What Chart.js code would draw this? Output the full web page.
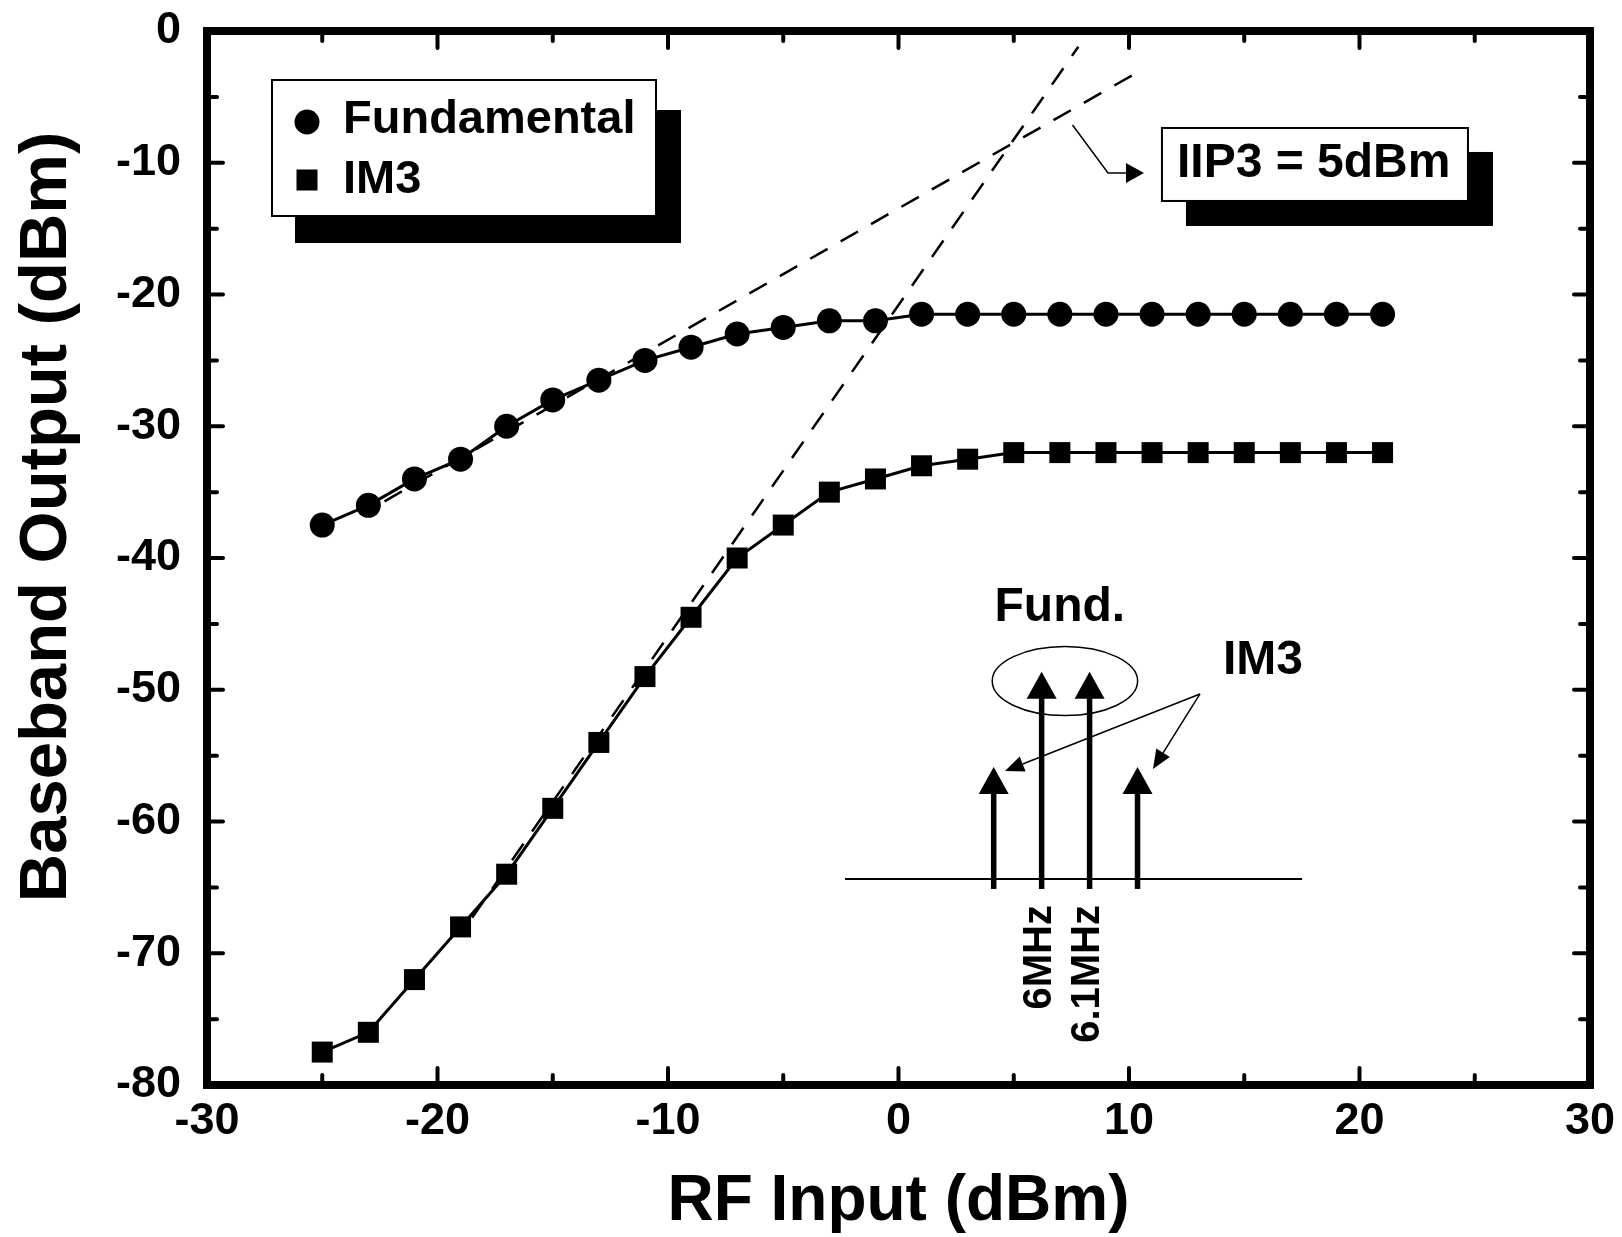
<!DOCTYPE html>
<html><head><meta charset="utf-8">
<script src="https://cdn.jsdelivr.net/npm/chart.js@4.4.1/dist/chart.umd.min.js"></script>
<style>html,body{margin:0;padding:0;background:#fff;}canvas{display:block;}</style>
</head><body>
<canvas id="c" width="1622" height="1237"></canvas>
<script>
// ---- data ----
const rfInput = [-25,-23,-21,-19,-17,-15,-13,-11,-9,-7,-5,-3,-1,1,3,5,7,9,11,13,15,17,19,21];
const fundamental = [-37.5,-36,-34,-32.5,-30,-28,-26.5,-25,-24,-23,-22.5,-22,-22,-21.5,-21.5,-21.5,-21.5,-21.5,-21.5,-21.5,-21.5,-21.5,-21.5,-21.5];
const im3 = [-77.5,-76,-72,-68,-64,-59,-54,-49,-44.5,-40,-37.5,-35,-34,-33,-32.5,-32,-32,-32,-32,-32,-32,-32,-32,-32];
const fundAsymX = [-22.3, 10.2];
const fundAsymY = [-35.7, -3.3];
const im3AsymX = [-18.5, 7.8];
const im3AsymY = [-67.3, -1.2];
const xTickValues = [-30,-20,-10,0,10,20,30];
const yTickValues = [-80,-70,-60,-50,-40,-30,-20,-10,0];
const xMinorTicks = [-25,-15,-5,5,15,25];
const yMinorTicks = [-75,-65,-55,-45,-35,-25,-15,-5];
const seriesNames = ['Fundamental','IM3'];
const xTitle = 'RF Input (dBm)';
const yTitle = 'Baseband Output (dBm)';
const iip3Text = 'IIP3 = 5dBm';
const insetFundText = 'Fund.';
const insetIm3Text = 'IM3';
const insetFreqs = ['6MHz','6.1MHz'];

const FAM = '"Liberation Sans", Arial, Helvetica, sans-serif';
const toXY = (xs, ys) => xs.map((x, i) => ({x, y: ys[i]}));

const target = { left: 207, top: 31, right: 1590, bottom: 1085 };
const fit = { yWidth: 207, xHeight: 152 };
let pad = { left: 0, top: 31, right: 32, bottom: 0 };

const decor = {
  id: 'decor',
  afterDraw(chart) {
    const {ctx, chartArea: ca, scales: {x, y}} = chart;
    const X = v => x.getPixelForValue(v), Y = v => y.getPixelForValue(v);
    ctx.save();
    ctx.fillStyle = '#000'; ctx.strokeStyle = '#000';
    // frame
    ctx.lineWidth = 8; ctx.lineJoin = 'miter';
    ctx.strokeRect(ca.left, ca.top, ca.right - ca.left, ca.bottom - ca.top);
    // inward ticks on all sides
    ctx.lineWidth = 4; ctx.lineCap = 'round';
    const seg = (x1, y1, x2, y2) => { ctx.beginPath(); ctx.moveTo(x1, y1); ctx.lineTo(x2, y2); ctx.stroke(); };
    xTickValues.slice(1, -1).forEach(v => { const p = X(v); seg(p, ca.bottom, p, ca.bottom - 17); seg(p, ca.top, p, ca.top + 17); });
    xMinorTicks.forEach(v => { const p = X(v); seg(p, ca.bottom, p, ca.bottom - 10); seg(p, ca.top, p, ca.top + 10); });
    yTickValues.slice(1, -1).forEach(v => { const p = Y(v); seg(ca.left, p, ca.left + 16, p); seg(ca.right, p, ca.right - 16, p); });
    yMinorTicks.forEach(v => { const p = Y(v); seg(ca.left, p, ca.left + 10, p); seg(ca.right, p, ca.right - 10, p); });
    ctx.lineCap = 'butt';

    // y axis title
    ctx.save();
    ctx.translate(48, 517); ctx.rotate(-Math.PI / 2);
    ctx.font = 'bold 67px ' + FAM; ctx.textAlign = 'center'; ctx.textBaseline = 'middle';
    ctx.fillText(yTitle, 0, 0);
    ctx.restore();

    // legend box with shadow
    const lx = ca.left + 65, ly = ca.top + 49, lw = 384, lh = 136;
    ctx.fillRect(lx + 23, ly + 30, lw + 2, lh - 3);
    ctx.fillStyle = '#fff'; ctx.fillRect(lx, ly, lw, lh);
    ctx.fillStyle = '#000'; ctx.lineWidth = 2; ctx.strokeRect(lx, ly, lw, lh);
    ctx.beginPath(); ctx.arc(lx + 35, ly + 42, 12.5, 0, Math.PI * 2); ctx.fill();
    ctx.fillRect(lx + 35 - 10.5, ly + 100 - 10.5, 21, 21);
    ctx.font = 'bold 47px ' + FAM; ctx.textAlign = 'left'; ctx.textBaseline = 'middle';
    ctx.fillText(seriesNames[0], lx + 71, ly + 40);
    ctx.fillText(seriesNames[1], lx + 71, ly + 100);

    // IIP3 annotation
    const bx = X(11.43), by = Y(-7.36), bw = 306, bh = 73;
    ctx.fillRect(bx + 24, by + 24, bw + 1, bh + 1);
    ctx.fillStyle = '#fff'; ctx.fillRect(bx, by, bw, bh);
    ctx.fillStyle = '#000'; ctx.lineWidth = 2; ctx.strokeRect(bx, by, bw, bh);
    ctx.font = 'bold 48px ' + FAM; ctx.textAlign = 'left'; ctx.textBaseline = 'middle';
    ctx.fillText(iip3Text, bx + 15, by + 36);
    ctx.lineWidth = 1.5;
    ctx.beginPath(); ctx.moveTo(X(7.55), Y(-7.13)); ctx.lineTo(X(9.09), Y(-10.78)); ctx.lineTo(X(10.65) - 18, Y(-10.78)); ctx.stroke();
    const tipX = X(10.65), tipY = Y(-10.78);
    ctx.beginPath(); ctx.moveTo(tipX, tipY); ctx.lineTo(tipX - 18, tipY - 10); ctx.lineTo(tipX - 18, tipY + 10); ctx.closePath(); ctx.fill();

    // inset spectrum sketch
    ctx.lineWidth = 2;
    seg(X(-2.32), Y(-64.36), X(17.51), Y(-64.36));
    const arrow = (xv, topV) => {
      const ax = X(xv), top = Y(topV), bot = Y(-65.12);
      ctx.lineWidth = 5.5; seg(ax, bot, ax, top + 25);
      ctx.beginPath(); ctx.moveTo(ax, top); ctx.lineTo(ax - 15, top + 27); ctx.lineTo(ax + 15, top + 27); ctx.closePath(); ctx.fill();
    };
    arrow(4.13, -55.86); arrow(6.21, -48.63); arrow(8.29, -48.63); arrow(10.37, -55.86);
    ctx.lineWidth = 1.5;
    ctx.beginPath(); ctx.ellipse(X(7.22), Y(-49.34), 72.7, 34.5, 0, 0, Math.PI * 2); ctx.stroke();
    ctx.font = 'bold 48px ' + FAM; ctx.textAlign = 'center'; ctx.textBaseline = 'middle';
    ctx.fillText(insetFundText, X(7.0), Y(-43.8));
    ctx.fillText(insetIm3Text, X(15.81), Y(-47.82));
    const pointer = (tx, ty) => {
      const ox = X(13.08), oy = Y(-50.32), px = X(tx), py = Y(ty);
      const ang = Math.atan2(py - oy, px - ox), L = 19, W = 8;
      const bxp = px - L * Math.cos(ang), byp = py - L * Math.sin(ang);
      ctx.lineWidth = 1.5; seg(ox, oy, bxp, byp);
      ctx.beginPath(); ctx.moveTo(px, py);
      ctx.lineTo(bxp + W * Math.sin(ang), byp - W * Math.cos(ang));
      ctx.lineTo(bxp - W * Math.sin(ang), byp + W * Math.cos(ang));
      ctx.closePath(); ctx.fill();
    };
    pointer(4.62, -56.17); pointer(11.04, -56.01);
    ctx.font = 'bold 40px ' + FAM; ctx.textAlign = 'right'; ctx.textBaseline = 'middle';
    [[6.21, insetFreqs[0]], [8.29, insetFreqs[1]]].forEach(([xv, t]) => {
      ctx.save(); ctx.translate(X(xv) - 2, Y(-66.34)); ctx.rotate(-Math.PI / 2); ctx.fillText(t, 0, 0); ctx.restore();
    });
    ctx.restore();
  }
};

const chart = new Chart(document.getElementById('c'), {
  type: 'line',
  data: {
    datasets: [
      { label: seriesNames[0], data: toXY(rfInput, fundamental), borderColor: '#000', borderWidth: 3,
        pointStyle: 'circle', pointRadius: 12.5, pointBackgroundColor: '#000', pointBorderWidth: 0, tension: 0 },
      { label: seriesNames[1], data: toXY(rfInput, im3), borderColor: '#000', borderWidth: 3,
        pointStyle: 'rect', pointRadius: 14.85, pointBackgroundColor: '#000', pointBorderWidth: 0, tension: 0 },
      { label: 'Fund. asymptote', data: toXY(fundAsymX, fundAsymY), borderColor: '#000', borderWidth: 2.5,
        borderDash: [20, 15], pointRadius: 0 },
      { label: 'IM3 asymptote', data: toXY(im3AsymX, im3AsymY), borderColor: '#000', borderWidth: 2.5,
        borderDash: [20, 15], pointRadius: 0 }
    ]
  },
  options: {
    responsive: false, animation: false, events: [], devicePixelRatio: 1,
    layout: { padding: pad },
    plugins: { legend: { display: false }, tooltip: { enabled: false } },
    scales: {
      x: {
        type: 'linear', position: 'bottom', min: -30, max: 30,
        afterBuildTicks: s => { s.ticks = xTickValues.map(v => ({ value: v })); },
        afterFit: s => { s.height = fit.xHeight; },
        grid: { display: true, drawOnChartArea: false, drawTicks: true, tickLength: 14, tickColor: 'rgba(0,0,0,0)' },
        border: { display: false },
        ticks: { color: '#000', padding: 0, maxRotation: 0, autoSkip: false,
                 font: { family: FAM, size: 45, weight: 'bold', lineHeight: 1 } },
        title: { display: true, text: xTitle, color: '#000', padding: { top: 0, bottom: 3 },
                 font: { family: FAM, size: 64, weight: 'bold', lineHeight: 1 } }
      },
      y: {
        type: 'linear', position: 'left', min: -80, max: 0,
        afterBuildTicks: s => { s.ticks = yTickValues.map(v => ({ value: v })); },
        afterFit: s => { s.width = fit.yWidth; },
        grid: { display: true, drawOnChartArea: false, drawTicks: true, tickLength: 26, tickColor: 'rgba(0,0,0,0)' },
        border: { display: false },
        ticks: { color: '#000', padding: 0, autoSkip: false,
                 font: { family: FAM, size: 45, weight: 'bold', lineHeight: 1 } },
        title: { display: false }
      }
    }
  },
  plugins: [decor]
});

// nudge the layout so the plot frame lands where the reference has it
for (let i = 0; i < 4; i++) {
  const ca = chart.chartArea;
  const dl = target.left - ca.left, dt = target.top - ca.top;
  const dr = ca.right - target.right, db = ca.bottom - target.bottom;
  if (Math.abs(dl) + Math.abs(dt) + Math.abs(dr) + Math.abs(db) < 0.5) break;
  fit.yWidth += dl; fit.xHeight += db;
  pad = { left: 0, top: pad.top + dt, right: pad.right + dr, bottom: 0 };
  chart.options.layout.padding = pad;
  chart.update();
}
</script>
</body></html>
